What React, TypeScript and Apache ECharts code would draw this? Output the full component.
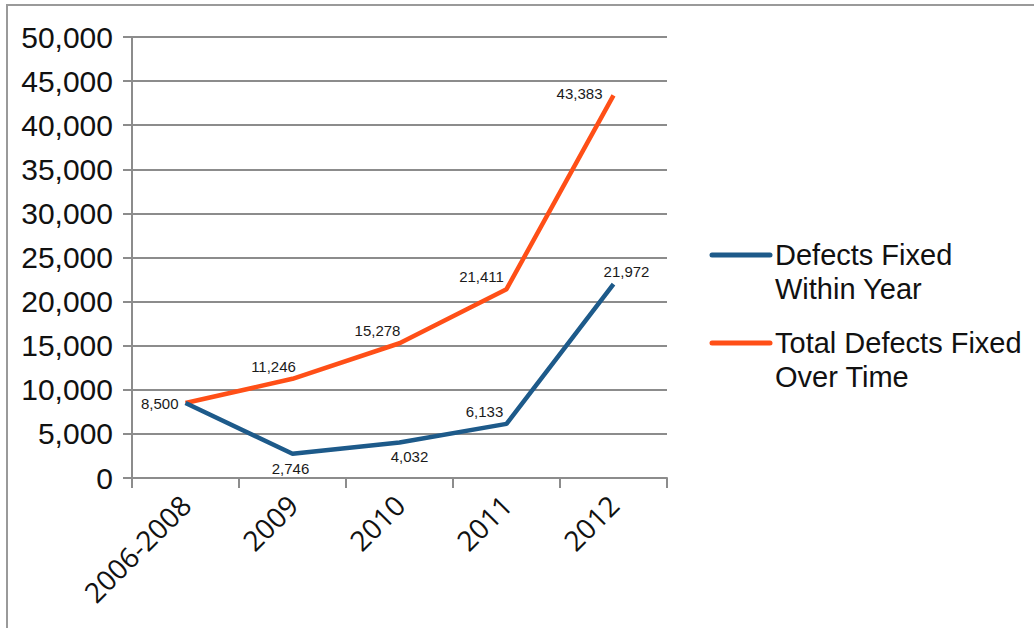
import React, { useEffect, useRef } from "react";
import * as echarts from "echarts";

const categories = ["2006-2008", "2009", "2010", "2011", "2012"];
const withinYear = [8500, 2746, 4032, 6133, 21972];
const overTime = [8500, 11246, 15278, 21411, 43383];
const seriesNames = ["Defects Fixed\nWithin Year", "Total Defects Fixed\nOver Time"];
const seriesColors = ["#1d5a8a", "#ff4f17"];
const yTicks = { min: 0, max: 50000, interval: 5000 };

const fmt = (v: number) => v.toLocaleString("en-US");

// label placement per point: [position, offsetX, offsetY, show]
const withinLabels: [string, number, number, boolean][] = [
  ["left", -2, 0, true],
  ["bottom", -2, 2, true],
  ["bottom", 10, 2, true],
  ["top", -22, 0, true],
  ["top", 13, 0, true],
];
const overLabels: [string, number, number, boolean][] = [
  ["left", 0, 0, false],
  ["top", -19, 0, true],
  ["top", -22, 0, true],
  ["top", -25, 0, true],
  ["left", -6, -2, true],
];

function buildData(values: number[], labels: [string, number, number, boolean][]) {
  return values.map((v, i) => ({
    value: v,
    label: {
      show: labels[i][3],
      position: labels[i][0] as any,
      offset: [labels[i][1], labels[i][2]],
    },
  }));
}

export default function App() {
  const ref = useRef<HTMLDivElement>(null);

  useEffect(() => {
    document.body.style.margin = "0";
    const chart = echarts.init(ref.current!, null, { renderer: "svg" });
    const labelFont = {
      fontFamily: "Liberation Sans, Arial, sans-serif",
      fontSize: 15,
      color: "#1a1a1a",
      formatter: (p: any) => fmt(p.value),
    };
    const legendX = 712;
    const legendY = [255, 343];
    chart.setOption({
      animation: false,
      backgroundColor: "#ffffff",
      grid: { left: 132, top: 37, right: 367, bottom: 150, containLabel: false },
      xAxis: {
        type: "category",
        data: categories,
        boundaryGap: true,
        axisLine: { lineStyle: { color: "#8c8c8c", width: 2 } },
        axisTick: { show: true, length: 10, lineStyle: { color: "#8c8c8c", width: 2 } },
        axisLabel: {
          rotate: 45,
          margin: 22,
          fontFamily: "Open Sans, sans-serif",
          fontSize: 28,
          color: "#111",
          interval: 0,
        },
      },
      yAxis: {
        type: "value",
        min: yTicks.min,
        max: yTicks.max,
        interval: yTicks.interval,
        axisLine: { show: true, lineStyle: { color: "#8c8c8c", width: 2 } },
        axisTick: { show: true, length: 9, lineStyle: { color: "#8c8c8c", width: 2 } },
        splitLine: { lineStyle: { color: "#8c8c8c", width: 2 } },
        axisLabel: {
          margin: 19,
          fontFamily: "Liberation Sans, Arial, sans-serif",
          fontSize: 30,
          color: "#111",
          formatter: (v: number) => fmt(v),
        },
      },
      series: [
        {
          name: seriesNames[0],
          type: "line",
          data: buildData(withinYear, withinLabels),
          symbol: "circle",
          symbolSize: 0,
          showSymbol: true,
          lineStyle: { color: seriesColors[0], width: 4.5 },
          itemStyle: { color: seriesColors[0] },
          label: { show: true, ...labelFont },
          z: 3,
        },
        {
          name: seriesNames[1],
          type: "line",
          data: buildData(overTime, overLabels),
          symbol: "circle",
          symbolSize: 0,
          showSymbol: true,
          lineStyle: { color: seriesColors[1], width: 4.5 },
          itemStyle: { color: seriesColors[1] },
          label: { show: true, ...labelFont },
          z: 2,
        },
      ],
      graphic: [
        {
          type: "rect",
          shape: { x: 7, y: 5, width: 1200, height: 800 },
          style: { fill: "none", stroke: "#9a9a9a", lineWidth: 2 },
          silent: true,
        },
        ...seriesNames.flatMap((name, i) => [
          {
            type: "line",
            shape: { x1: legendX, y1: legendY[i], x2: legendX + 58, y2: legendY[i] },
            style: { stroke: seriesColors[i], lineWidth: 5, lineCap: "round" },
          },
          {
            type: "text",
            x: legendX + 63,
            y: legendY[i] - 17,
            style: {
              text: name,
              fontFamily: "Liberation Sans, Arial, sans-serif",
              fontSize: 29,
              lineHeight: 34,
              fill: "#111",
              textVerticalAlign: "top",
            },
          },
        ]),
      ],
    });
    return () => chart.dispose();
  }, []);

  return <div ref={ref} style={{ width: 1034, height: 628 }} />;
}
